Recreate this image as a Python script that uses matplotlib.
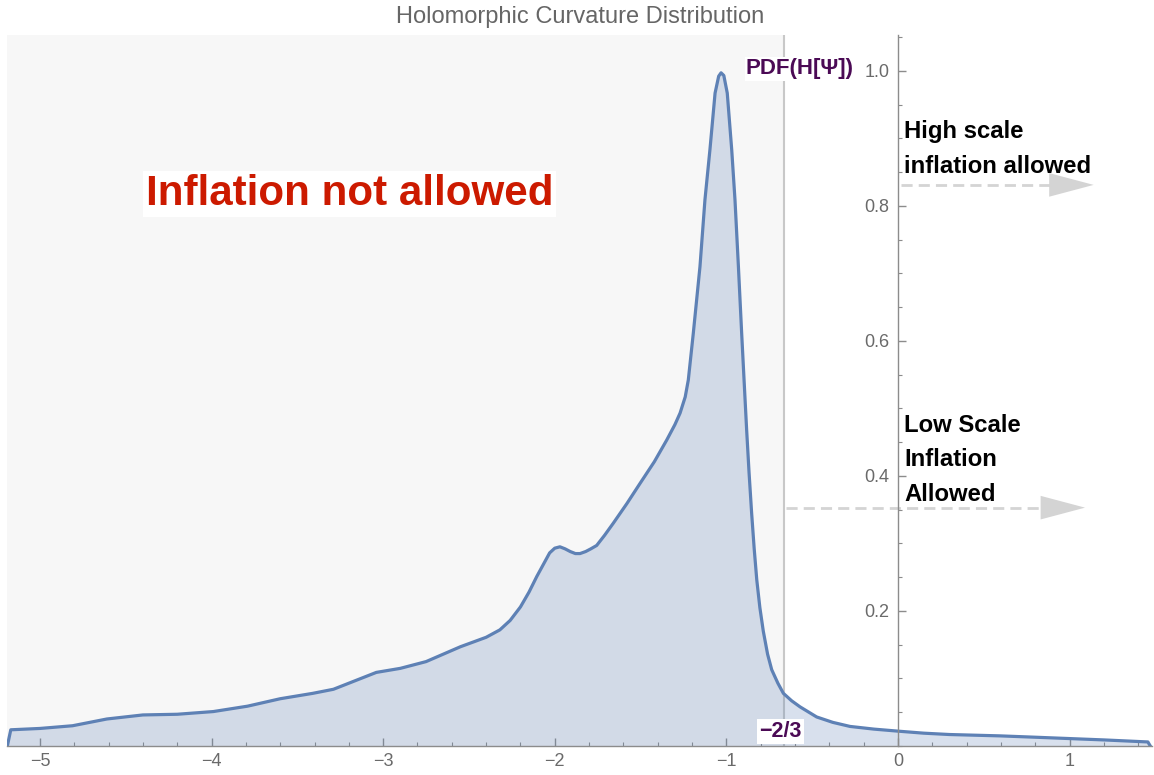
import matplotlib
matplotlib.use("Agg")
import matplotlib.pyplot as plt
from matplotlib.patches import FancyArrowPatch
from matplotlib.ticker import MultipleLocator

plt.rcParams['font.family'] = ['Liberation Sans', 'DejaVu Sans']

# ---- data ----
curve_x = [-5.19, -5.17, -5.0, -4.81, -4.61, -4.40, -4.20, -3.99, -3.79, -3.60, -3.41,
           -3.29, -3.18, -3.04, -2.90, -2.75, -2.55, -2.40, -2.32, -2.26, -2.20, -2.15,
           -2.105, -2.06, -2.03, -2.00, -1.97, -1.94, -1.91, -1.88, -1.853, -1.82, -1.79,
           -1.756, -1.71, -1.659, -1.58, -1.503, -1.42, -1.348, -1.30, -1.27, -1.24,
           -1.222, -1.193, -1.154, -1.125, -1.096, -1.066, -1.045, -1.031, -1.015, -0.995,
           -0.969, -0.95, -0.93, -0.911, -0.892, -0.882, -0.868, -0.853, -0.838, -0.823,
           -0.805, -0.785, -0.76, -0.736, -0.70, -0.668, -0.62, -0.571, -0.474, -0.38,
           -0.28, -0.14, 0.0, 0.15, 0.3, 0.594, 0.8, 1.0, 1.2, 1.456, 1.47]
curve_y = [0.0, 0.024, 0.026, 0.030, 0.040, 0.046, 0.047, 0.051, 0.059, 0.070, 0.078,
           0.084, 0.095, 0.109, 0.115, 0.125, 0.147, 0.161, 0.172, 0.186, 0.206, 0.228,
           0.251, 0.272, 0.286, 0.293, 0.295, 0.292, 0.288, 0.285, 0.285, 0.288, 0.292,
           0.297, 0.312, 0.330, 0.359, 0.389, 0.421, 0.453, 0.476, 0.493, 0.517,
           0.542, 0.611, 0.710, 0.809, 0.883, 0.967, 0.992, 0.997, 0.993, 0.967,
           0.883, 0.809, 0.710, 0.611, 0.517, 0.468, 0.405, 0.345, 0.292, 0.246,
           0.205, 0.170, 0.136, 0.113, 0.093, 0.078, 0.067, 0.058, 0.043, 0.035,
           0.029, 0.025, 0.022, 0.019, 0.017, 0.015, 0.013, 0.011, 0.009, 0.006, 0.0]

x_ticks = [-5, -4, -3, -2, -1, 0, 1]
y_ticks = [0.2, 0.4, 0.6, 0.8, 1.0]
x_limits = [-5.192, 1.48]
y_limits = [0.0, 1.053]
bound_x = -2.0 / 3.0

arrow_high_x = [0.02, 1.14]
arrow_high_y = 0.831
arrow_low_x = [-0.655, 1.09]
arrow_low_y = 0.353

title = "Holomorphic Curvature Distribution"
label_not_allowed = "Inflation not allowed"
label_high = "High scale\ninflation allowed"
label_low = "Low Scale\nInflation\nAllowed"
label_pdf = "PDF(H[Ψ])"
label_bound = "\u22122/3"

line_color = "#5e81b5"
gray_tick = "#6a6a6a"
axis_color = "#8c8c8c"
purple = "#4b0a55"

# ---- figure ----
fig = plt.figure(figsize=(11.54, 7.75), dpi=100)
ax = fig.add_axes([7 / 1154, 29 / 775, 1145 / 1154, 711 / 775])
ax.set_xlim(*x_limits)
ax.set_ylim(*y_limits)

# shaded "not allowed" region
ax.axvspan(x_limits[0], bound_x, color="#f7f7f7", zorder=0, lw=0)
ax.axvline(bound_x, color="#c8c8c8", lw=1.5, zorder=1)

# curve + filling
ax.fill_between(curve_x, curve_y, 0, color=line_color, alpha=0.24, lw=0, zorder=2)
ax.plot(curve_x, curve_y, color=line_color, lw=2.3, zorder=3, solid_joinstyle='round')

# axes styling (Mathematica-like)
for s in ["top", "right"]:
    ax.spines[s].set_visible(False)
ax.spines["left"].set_position(("data", 0))
ax.spines["bottom"].set_position(("data", 0))
for s in ["left", "bottom"]:
    ax.spines[s].set_color(axis_color)
    ax.spines[s].set_linewidth(1.0)
    ax.spines[s].set_zorder(4)

ax.set_xticks(x_ticks)
ax.set_yticks(y_ticks)
ax.set_xticklabels([("\u2212%d" % -v) if v < 0 else "%d" % v for v in x_ticks])
ax.set_yticklabels(["%.1f" % v for v in y_ticks])
ax.xaxis.set_minor_locator(MultipleLocator(0.2))
ax.yaxis.set_minor_locator(MultipleLocator(0.05))
ax.tick_params(axis="both", which="major", direction="in", length=5.5, width=1.0,
               color=axis_color, labelcolor=gray_tick, labelsize=13)
ax.tick_params(axis="both", which="minor", direction="in", length=3, width=0.8,
               color=axis_color)
ax.tick_params(axis="y", which="major", pad=6)
ax.tick_params(axis="x", which="major", pad=5)
ax.set_facecolor("white")

# arrows
def dashed_arrow(xs, y):
    head_len = 0.27
    ax.plot([xs[0], xs[1] - head_len + 0.02], [y, y], color="#d4d4d4", lw=2.0,
            dashes=(4, 2.2), zorder=3, solid_capstyle='butt')
    arr = FancyArrowPatch((xs[1] - head_len, y), (xs[1], y),
                          arrowstyle="-|>,head_length=32,head_width=8.5",
                          mutation_scale=1, color="#d4d4d4", lw=0, zorder=3,
                          shrinkA=0, shrinkB=0)
    ax.add_patch(arr)

dashed_arrow(arrow_high_x, arrow_high_y)
dashed_arrow(arrow_low_x, arrow_low_y)

# texts
ax.text(-3.196, 0.818, label_not_allowed, color="#cc1a00", fontsize=30.3, fontweight="bold",
        ha="center", va="center", zorder=5,
        bbox=dict(facecolor="white", edgecolor="none", pad=2))
ax.text(-0.257, 1.003, label_pdf, color=purple, fontsize=16, fontweight="bold",
        ha="right", va="center", zorder=5,
        bbox=dict(facecolor="white", edgecolor="none", pad=1))
ax.text(-0.683, 0.021, label_bound, color=purple, fontsize=15.5, fontweight="bold",
        ha="center", va="center", zorder=5,
        bbox=dict(facecolor="white", edgecolor="none", pad=1.5))
ax.text(0.035, 0.884, label_high, color="black", fontsize=17.2, fontweight="bold",
        ha="left", va="center", linespacing=1.63, zorder=5)
ax.text(0.035, 0.424, label_low, color="black", fontsize=17.2, fontweight="bold",
        ha="left", va="center", linespacing=1.63, zorder=5)

fig.text(580 / 1154, 1 - 17 / 775, title, color="#666666", fontsize=17,
         ha="center", va="center")

fig.savefig("out.png", dpi=100, facecolor="white")
